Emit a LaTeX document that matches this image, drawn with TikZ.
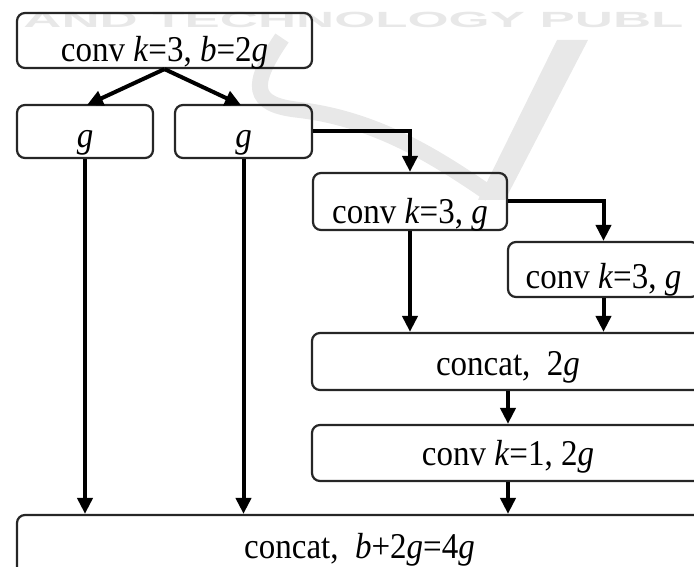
\documentclass[tikz,border=0pt]{standalone}
\usepackage{fontspec}
\setmainfont{Liberation Serif}
\newfontfamily\wmfont{Liberation Sans}
\usetikzlibrary{arrows.meta}
\definecolor{wm}{HTML}{E8E8E8}
\newcommand{\tallT}[1]{\scalebox{1}[1.1]{#1}}
\tikzset{
  blk/.style={draw=black!85, line width=2.2pt, rounded corners=8pt, inner sep=0pt,
    font=\fontsize{33}{40}\selectfont, text=black, text depth=0pt},
  bl/.style={text height=#1},
  arr/.style={draw=black, line width=4pt,
    -{Triangle[length=16pt,width=15pt]}},
}
\begin{document}
\begin{tikzpicture}[x=1pt,y=-1pt]
\useasboundingbox (0,0) rectangle (694,567);
\clip (0,0) rectangle (694,567);
% watermark
\node[anchor=west, inner sep=0pt, text=wm, xscale=2.4,
  font=\wmfont\bfseries\fontsize{22}{22}\selectfont] (wmtext) at (23,20) {AND TECHNOLOGY PUBL};
\draw[wm, line width=16pt] (282,38) .. controls (250,85) and (250,105) .. (300,110)
  .. controls (380,120) and (440,160) .. (490,194);
\fill[wm] (557,40) -- (588,40) -- (505,200) -- (478,200) -- cycle;
% boxes
\node[blk, bl=43pt, minimum width=295pt, minimum height=55pt] (top) at (164.5,40.5) {\tallT{conv \textit{k}=3, \textit{b}=2\textit{g}}};
\node[blk, bl=33pt, minimum width=136pt, minimum height=53pt] (gL) at (85,131.5) {\tallT{\textit{g}}};
\node[blk, bl=33pt, minimum width=137pt, minimum height=53pt] (gR) at (243.5,131.5) {\tallT{\textit{g}}};
\node[blk, bl=43pt, minimum width=194pt, minimum height=57pt] (c1) at (410,201.5) {\tallT{conv \textit{k}=3, \textit{g}}};
\node[blk, bl=37pt, minimum width=191pt, minimum height=55pt] (c2) at (603.5,269.5) {\tallT{conv \textit{k}=3, \textit{g}}};
\node[blk, bl=27pt, minimum width=392pt, minimum height=57pt] (cc) at (508,361.5) {\tallT{concat,\ \ 2\textit{g}}};
\node[blk, bl=24pt, minimum width=392pt, minimum height=56pt] (c11) at (508,453) {\tallT{conv \textit{k}=1, 2\textit{g}}};
\node[blk, bl=26pt, minimum width=685pt, minimum height=60pt] (fin) at (359.5,545) {\tallT{concat,\ \ \textit{b}+2\textit{g}=4\textit{g}}};
% connectors
\coordinate (split) at (top.south);
\draw[arr] (split) -- (87,105);
\draw[arr] (split) -- (241,105);
\draw[arr] (gL.south) -- (gL.south |- fin.north);
\draw[arr] (gR.south) -- (gR.south |- fin.north);
\draw[arr] (gR.east) -| (c1.north);
\draw[arr] (c1.east) -| (c2.north);
\draw[arr] (c1.south) -- (c1.south |- cc.north);
\draw[arr] (c2.south) -- (c2.south |- cc.north);
\draw[arr] (cc.south) -- (c11.north);
\draw[arr] (c11.south) -- (c11.south |- fin.north);
\end{tikzpicture}
\end{document}
